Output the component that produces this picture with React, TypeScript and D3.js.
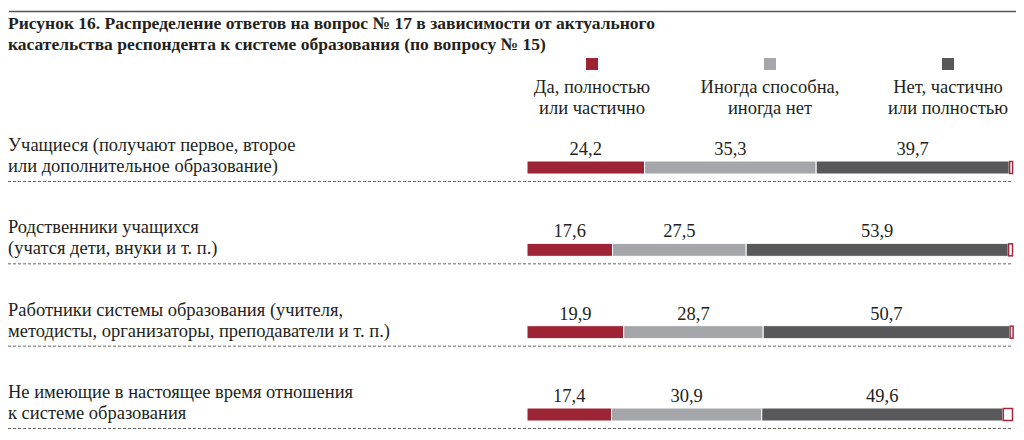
import React from "react";
import * as d3 from "d3";

const titleLines = [
  "Рисунок 16. Распределение ответов на вопрос № 17 в зависимости от актуального",
  "касательства респондента к системе образования (по вопросу № 15)",
];

const seriesKeys = ["yes", "sometimes", "no"];
const seriesNames = [
  ["Да, полностью", "или частично"],
  ["Иногда способна,", "иногда нет"],
  ["Нет, частично", "или полностью"],
];
const seriesColors = ["#9c2434", "#a5a6aa", "#58585b"];

const categoryLabels = [
  ["Учащиеся (получают первое, второе", "или дополнительное образование)"],
  ["Родственники учащихся", "(учатся дети, внуки и т. п.)"],
  ["Работники системы образования (учителя,", "методисты, организаторы, преподаватели и т. п.)"],
  ["Не имеющие в настоящее время отношения", "к системе образования"],
];

const yesValues = [24.2, 17.6, 19.9, 17.4];
const sometimesValues = [35.3, 27.5, 28.7, 30.9];
const noValues = [39.7, 53.9, 50.7, 49.6];

const fmt = (v: number) => v.toFixed(1).replace(".", ",");

export default function App() {
  const W = 1024;
  const H = 440;
  const font = "'Liberation Serif', 'Times New Roman', serif";
  const textColor = "#231f20";

  const rows = categoryLabels.map((_, i) => ({
    yes: yesValues[i],
    sometimes: sometimesValues[i],
    no: noValues[i],
  }));

  const x = d3.scaleLinear().domain([0, 100]).range([527, 1013]);
  const rowY = d3.scaleLinear().domain([0, categoryLabels.length - 1]).range([181, 428]);
  const legendX = d3.scalePoint<string>().domain(seriesKeys).range([592, 948]);

  const stack = d3.stack<any>().keys(seriesKeys);
  const stacked = stack(rows);

  const barH = 13;

  return (
    <svg
      width={W}
      height={H}
      style={{ position: "absolute", left: 0, top: 0, background: "#fff" }}
      fontFamily={font}
    >
      <rect x={0} y={0} width={W} height={H} fill="#fff" />
      <line x1={9} x2={1016} y1={11.5} y2={11.5} stroke="#555" strokeWidth={1.5} />
      {titleLines.map((t, i) => (
        <text key={i} x={8} y={29 + i * 21} fontSize={17.5} fontWeight="bold" fill={textColor}>
          {t}
        </text>
      ))}

      {seriesKeys.map((k, i) => (
        <g key={k}>
          <rect
            x={(legendX(k) as number) - 6}
            y={58}
            width={12}
            height={12}
            fill={seriesColors[i]}
          />
          {seriesNames[i].map((s, j) => (
            <text
              key={j}
              x={legendX(k) as number}
              y={93 + j * 20.5}
              textAnchor="middle"
              fontSize={18.5}
              fill={textColor}
            >
              {s}
            </text>
          ))}
        </g>
      ))}

      {categoryLabels.map((lines, i) => {
        const D = rowY(i);
        const total = yesValues[i] + sometimesValues[i] + noValues[i];
        return (
          <g key={i}>
            {lines.map((s, j) => (
              <text key={j} x={8} y={D - 30 + j * 21} fontSize={18.5} fill={textColor}>
                {s}
              </text>
            ))}
            <line
              x1={8}
              x2={1013}
              y1={D + 0.5}
              y2={D + 0.5}
              stroke="#666"
              strokeWidth={1}
              strokeDasharray="3,2"
            />
            {stacked.map((layer, li) => {
              const seg = layer[i];
              const x0 = x(seg[0]);
              const x1 = x(seg[1]);
              return (
                <g key={li}>
                  <rect
                    x={x0}
                    y={D - 20}
                    width={x1 - x0}
                    height={barH}
                    fill={seriesColors[li]}
                    stroke="#fff"
                    strokeWidth={1}
                  />
                  <text
                    x={(x0 + x1) / 2}
                    y={D - 26}
                    textAnchor="middle"
                    fontSize={18.5}
                    fill={textColor}
                  >
                    {fmt(seg[1] - seg[0])}
                  </text>
                </g>
              );
            })}
            <rect
              x={x(total) + 0.5}
              y={D - 19.5}
              width={Math.max(x(100) - x(total) - 1, 3)}
              height={barH - 1}
              fill="#fff"
              stroke="#a3283a"
              strokeWidth={1.5}
            />
          </g>
        );
      })}
    </svg>
  );
}
